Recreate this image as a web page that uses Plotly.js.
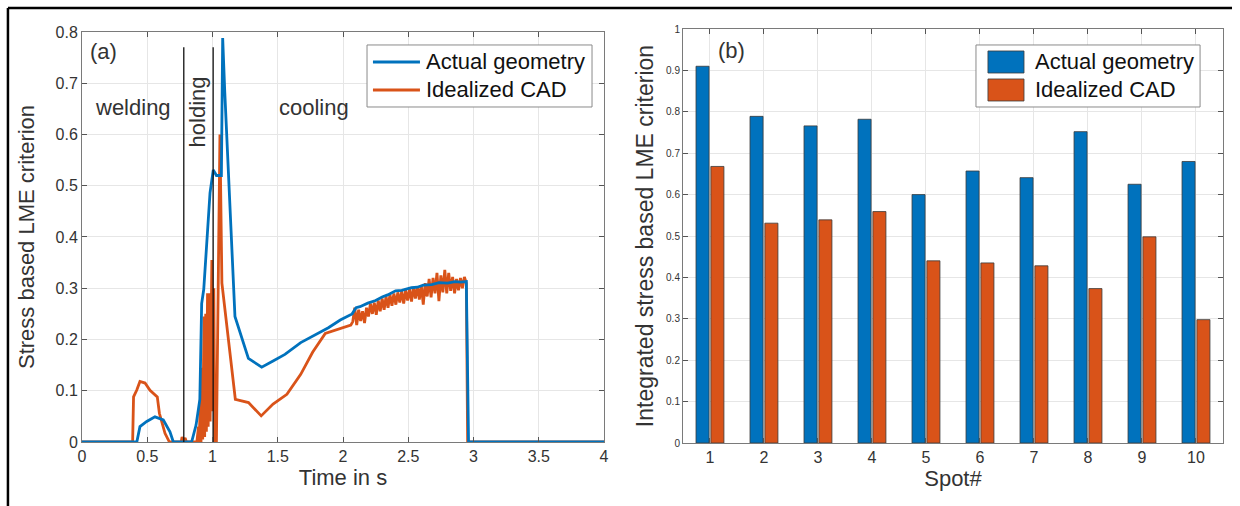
<!DOCTYPE html>
<html><head><meta charset="utf-8">
<script src="https://cdn.plot.ly/plotly-3.0.1.min.js"></script>
<style>html,body{margin:0;padding:0;background:#fff}#chart{width:1240px;height:506px}</style>
</head><body><div id="chart"></div>
<script>
// ---- Panel (a): time series ----
const actualTime = [0, 0.42, 0.444, 0.496, 0.559, 0.58, 0.623, 0.674, 0.70, 0.84, 0.874, 0.903, 0.917, 0.933, 0.981, 1.006, 1.03, 1.068, 1.078, 1.094, 1.172, 1.275, 1.377, 1.464, 1.555, 1.676, 1.767, 1.888, 1.979, 2.07, 2.10, 2.13, 2.19, 2.25, 2.30, 2.342, 2.403, 2.45, 2.524, 2.57, 2.615, 2.68, 2.736, 2.80, 2.858, 2.90, 2.945, 2.962, 4];
const actualValue = [0, 0, 0.03, 0.04, 0.049, 0.047, 0.043, 0.02, 0, 0, 0.033, 0.083, 0.27, 0.298, 0.486, 0.531, 0.52, 0.52, 0.788, 0.683, 0.245, 0.163, 0.146, 0.158, 0.171, 0.194, 0.206, 0.223, 0.238, 0.25, 0.262, 0.264, 0.271, 0.276, 0.283, 0.287, 0.295, 0.296, 0.301, 0.302, 0.306, 0.307, 0.311, 0.310, 0.313, 0.312, 0.313, 0, 0];

const cadTime = [0, 0.388, 0.395, 0.419, 0.444, 0.483, 0.521, 0.577, 0.593, 0.636, 0.67, 0.76, 0.767, 0.775, 0.79, 0.80, 0.81, 0.88,
  0.893, 0.898, 0.907, 0.912, 0.92, 0.925, 0.935, 0.94, 0.948, 0.953, 0.962, 0.967, 0.977, 0.982, 0.995, 1.002, 1.01, 1.018, 1.03,
  1.057, 1.072, 1.175, 1.276, 1.373, 1.464, 1.57, 1.676, 1.767, 1.864, 1.964, 2.06,
  2.075, 2.09, 2.105, 2.12, 2.135, 2.15, 2.165, 2.18, 2.195, 2.21, 2.225, 2.24, 2.255, 2.27, 2.285, 2.30, 2.315, 2.33, 2.345, 2.36,
  2.375, 2.39, 2.405, 2.42, 2.435, 2.45, 2.465, 2.48, 2.495, 2.51, 2.525, 2.54, 2.555, 2.57, 2.585, 2.60, 2.615, 2.63, 2.645, 2.66,
  2.675, 2.69, 2.705, 2.72, 2.735, 2.75, 2.765, 2.78, 2.795, 2.81, 2.825, 2.84, 2.855, 2.87, 2.885, 2.90, 2.915, 2.93, 2.945, 2.955, 4];
const cadValue = [0, 0, 0.088, 0.101, 0.118, 0.115, 0.101, 0.088, 0.056, 0.017, 0, 0, 0.01, 0.002, 0.008, 0, 0, 0,
  0.03, 0, 0.085, 0, 0.145, 0.005, 0.245, 0.01, 0.25, 0.02, 0.29, 0.03, 0.29, 0.04, 0.355, 0.06, 0.30, 0, 0,
  0.60, 0.31, 0.083, 0.077, 0.051, 0.074, 0.093, 0.132, 0.175, 0.212, 0.22, 0.228,
  0.235, 0.262, 0.228, 0.258, 0.236, 0.255, 0.232, 0.262, 0.245, 0.27, 0.25, 0.272, 0.248, 0.276, 0.255, 0.28, 0.258, 0.284, 0.262, 0.288,
  0.266, 0.29, 0.268, 0.292, 0.272, 0.294, 0.27, 0.296, 0.276, 0.298, 0.274, 0.302, 0.28, 0.304, 0.278, 0.306, 0.268, 0.31, 0.284, 0.318,
  0.282, 0.32, 0.29, 0.33, 0.275, 0.325, 0.292, 0.336, 0.29, 0.33, 0.295, 0.322, 0.29, 0.318, 0.296, 0.32, 0.30, 0.322, 0.31, 0, 0];

const phaseLineTimes = [0.78, 1.005];
const phaseLineTop = 0.77;
const phaseLabels = ['welding', 'holding', 'cooling'];
const phaseLabelTimes = [0.387, 0.885, 1.774];
const phaseLabelValues = [0.652, 0.644, 0.652];

// ---- Panel (b): integrated criterion per spot ----
const spots = [1, 2, 3, 4, 5, 6, 7, 8, 9, 10];
const spotActual = [0.910, 0.789, 0.766, 0.782, 0.600, 0.657, 0.641, 0.752, 0.625, 0.680];
const spotCAD = [0.668, 0.531, 0.539, 0.559, 0.440, 0.435, 0.428, 0.373, 0.498, 0.298];
const seriesNames = ['Actual geometry', 'Idealized CAD'];

const BLUE = '#0072BD', ORANGE = '#D95319';
const FONT = 'Liberation Sans, Arial, Helvetica, sans-serif';
const TXT = '#333333';

const phaseX = [], phaseY = [];
phaseLineTimes.forEach(t => { phaseX.push(t, t, null); phaseY.push(0, phaseLineTop, null); });

const traces = [
  {x: cadTime, y: cadValue, type: 'scatter', mode: 'lines', name: seriesNames[1], showlegend: false,
   line: {color: ORANGE, width: 2.8}, xaxis: 'x', yaxis: 'y'},
  {x: actualTime, y: actualValue, type: 'scatter', mode: 'lines', name: seriesNames[0], showlegend: false,
   line: {color: BLUE, width: 2.8}, xaxis: 'x', yaxis: 'y'},
  {x: phaseX, y: phaseY, type: 'scatter', mode: 'lines', showlegend: false, hoverinfo: 'skip',
   line: {color: '#111', width: 1.3}, xaxis: 'x', yaxis: 'y'},
  {x: spots, y: spotActual, type: 'bar', name: seriesNames[0], showlegend: false,
   marker: {color: BLUE, line: {color: '#3a3a3a', width: 0.8}}, xaxis: 'x2', yaxis: 'y2'},
  {x: spots, y: spotCAD, type: 'bar', name: seriesNames[1], showlegend: false,
   marker: {color: ORANGE, line: {color: '#3a3a3a', width: 0.8}}, xaxis: 'x2', yaxis: 'y2'}
];

const axisCommon = {
  ticks: 'inside', ticklen: 5, tickcolor: '#555', tickwidth: 1,
  showline: true, linecolor: '#7a7a7a', linewidth: 1, mirror: 'ticks',
  showgrid: true, gridcolor: '#e6e6e6', gridwidth: 1, zeroline: false,
  automargin: false, tickfont: {family: FONT, size: 16, color: TXT}
};

const annotations = [
  {text: '(a)', x: 0.046, y: 0.761, xref: 'x', yref: 'y', xanchor: 'left', yanchor: 'middle', showarrow: false,
   font: {family: FONT, size: 22, color: TXT}},
  {text: '(b)', x: 1.11, y: 0.949, xref: 'x2', yref: 'y2', xanchor: 'left', yanchor: 'middle', showarrow: false,
   font: {family: FONT, size: 22, color: TXT}}
];
phaseLabels.forEach((s, i) => annotations.push({
  text: s, x: phaseLabelTimes[i], y: phaseLabelValues[i], xref: 'x', yref: 'y', showarrow: false,
  textangle: i === 1 ? -90 : 0, font: {family: FONT, size: 22, color: TXT}
}));

// legends (drawn in paper coordinates): panel (a) lines, panel (b) bars
const legY = [0.9203, 0.8527];
const legBoxes = [[0.2498, 0.4470], [0.7835, 0.9799]];
const legTextX = [0.2997, 0.8335];
legTextX.forEach(tx => seriesNames.forEach((s, i) => annotations.push({
  text: s, x: tx, y: legY[i], xref: 'paper', yref: 'paper', xanchor: 'left', yanchor: 'middle',
  showarrow: false, font: {family: FONT, size: 22, color: '#111'}
})));

const seriesColors = [BLUE, ORANGE];
const shapes = [
  // outer frame
  {type: 'line', xref: 'paper', yref: 'paper', x0: -0.0649, x1: 1.0079, y0: 1.0507, y1: 1.0507, line: {color: '#000', width: 2.5}},
  {type: 'line', xref: 'paper', yref: 'paper', x0: -0.0649, x1: -0.0649, y0: 1.0507, y1: -0.16, line: {color: '#000', width: 2.5}}
];
legBoxes.forEach(b => shapes.push({type: 'rect', xref: 'paper', yref: 'paper', x0: b[0], x1: b[1], y0: 0.8116, y1: 0.9614,
  line: {color: '#8a8a8a', width: 1}, fillcolor: '#ffffff', layer: 'above'}));
seriesColors.forEach((c, i) => {
  shapes.push({type: 'line', xref: 'paper', yref: 'paper', x0: 0.2550, x1: 0.2962, y0: legY[i], y1: legY[i],
    line: {color: c, width: 2.8}, layer: 'above'});
  shapes.push({type: 'rect', xref: 'paper', yref: 'paper', x0: 0.794, x1: 0.8256,
    y0: legY[i] - 0.0266, y1: legY[i] + 0.0266, line: {color: '#3a3a3a', width: 0.8}, fillcolor: c, layer: 'above'});
});

const layout = {
  width: 1240, height: 506,
  margin: {l: 82, r: 17, t: 29, b: 63, pad: 0},
  paper_bgcolor: '#fff', plot_bgcolor: '#fff',
  font: {family: FONT, color: TXT},
  showlegend: false,
  barmode: 'group', bargap: 0.45, bargroupgap: 0.12,
  xaxis: Object.assign({}, axisCommon, {domain: [0, 0.4575], range: [0, 4], dtick: 0.5, tick0: 0, anchor: 'y',
    title: {text: 'Time in s', font: {family: FONT, size: 22, color: TXT}, standoff: 4}}),
  yaxis: Object.assign({}, axisCommon, {domain: [0.0024, 0.9928], range: [0, 0.8], dtick: 0.1, tick0: 0, anchor: 'x',
    title: {text: 'Stress based LME criterion', font: {family: FONT, size: 22, color: TXT}, standoff: 14}}),
  xaxis2: Object.assign({}, axisCommon, {domain: [0.5267, 1], range: [0.5, 10.5], tickvals: spots, anchor: 'y2',
    title: {text: 'Spot#', font: {family: FONT, size: 22, color: TXT}, standoff: 4}}),
  yaxis2: Object.assign({}, axisCommon, {domain: [0, 1], range: [0, 1], dtick: 0.1, tick0: 0, anchor: 'x2',
    tickfont: {family: FONT, size: 10, color: TXT},
    title: {text: 'Integrated stress based LME criterion', font: {family: FONT, size: 23, color: TXT}, standoff: 6}}),
  annotations: annotations,
  shapes: shapes
};

Plotly.newPlot('chart', traces, layout, {displayModeBar: false, staticPlot: true});
</script>
</body></html>
